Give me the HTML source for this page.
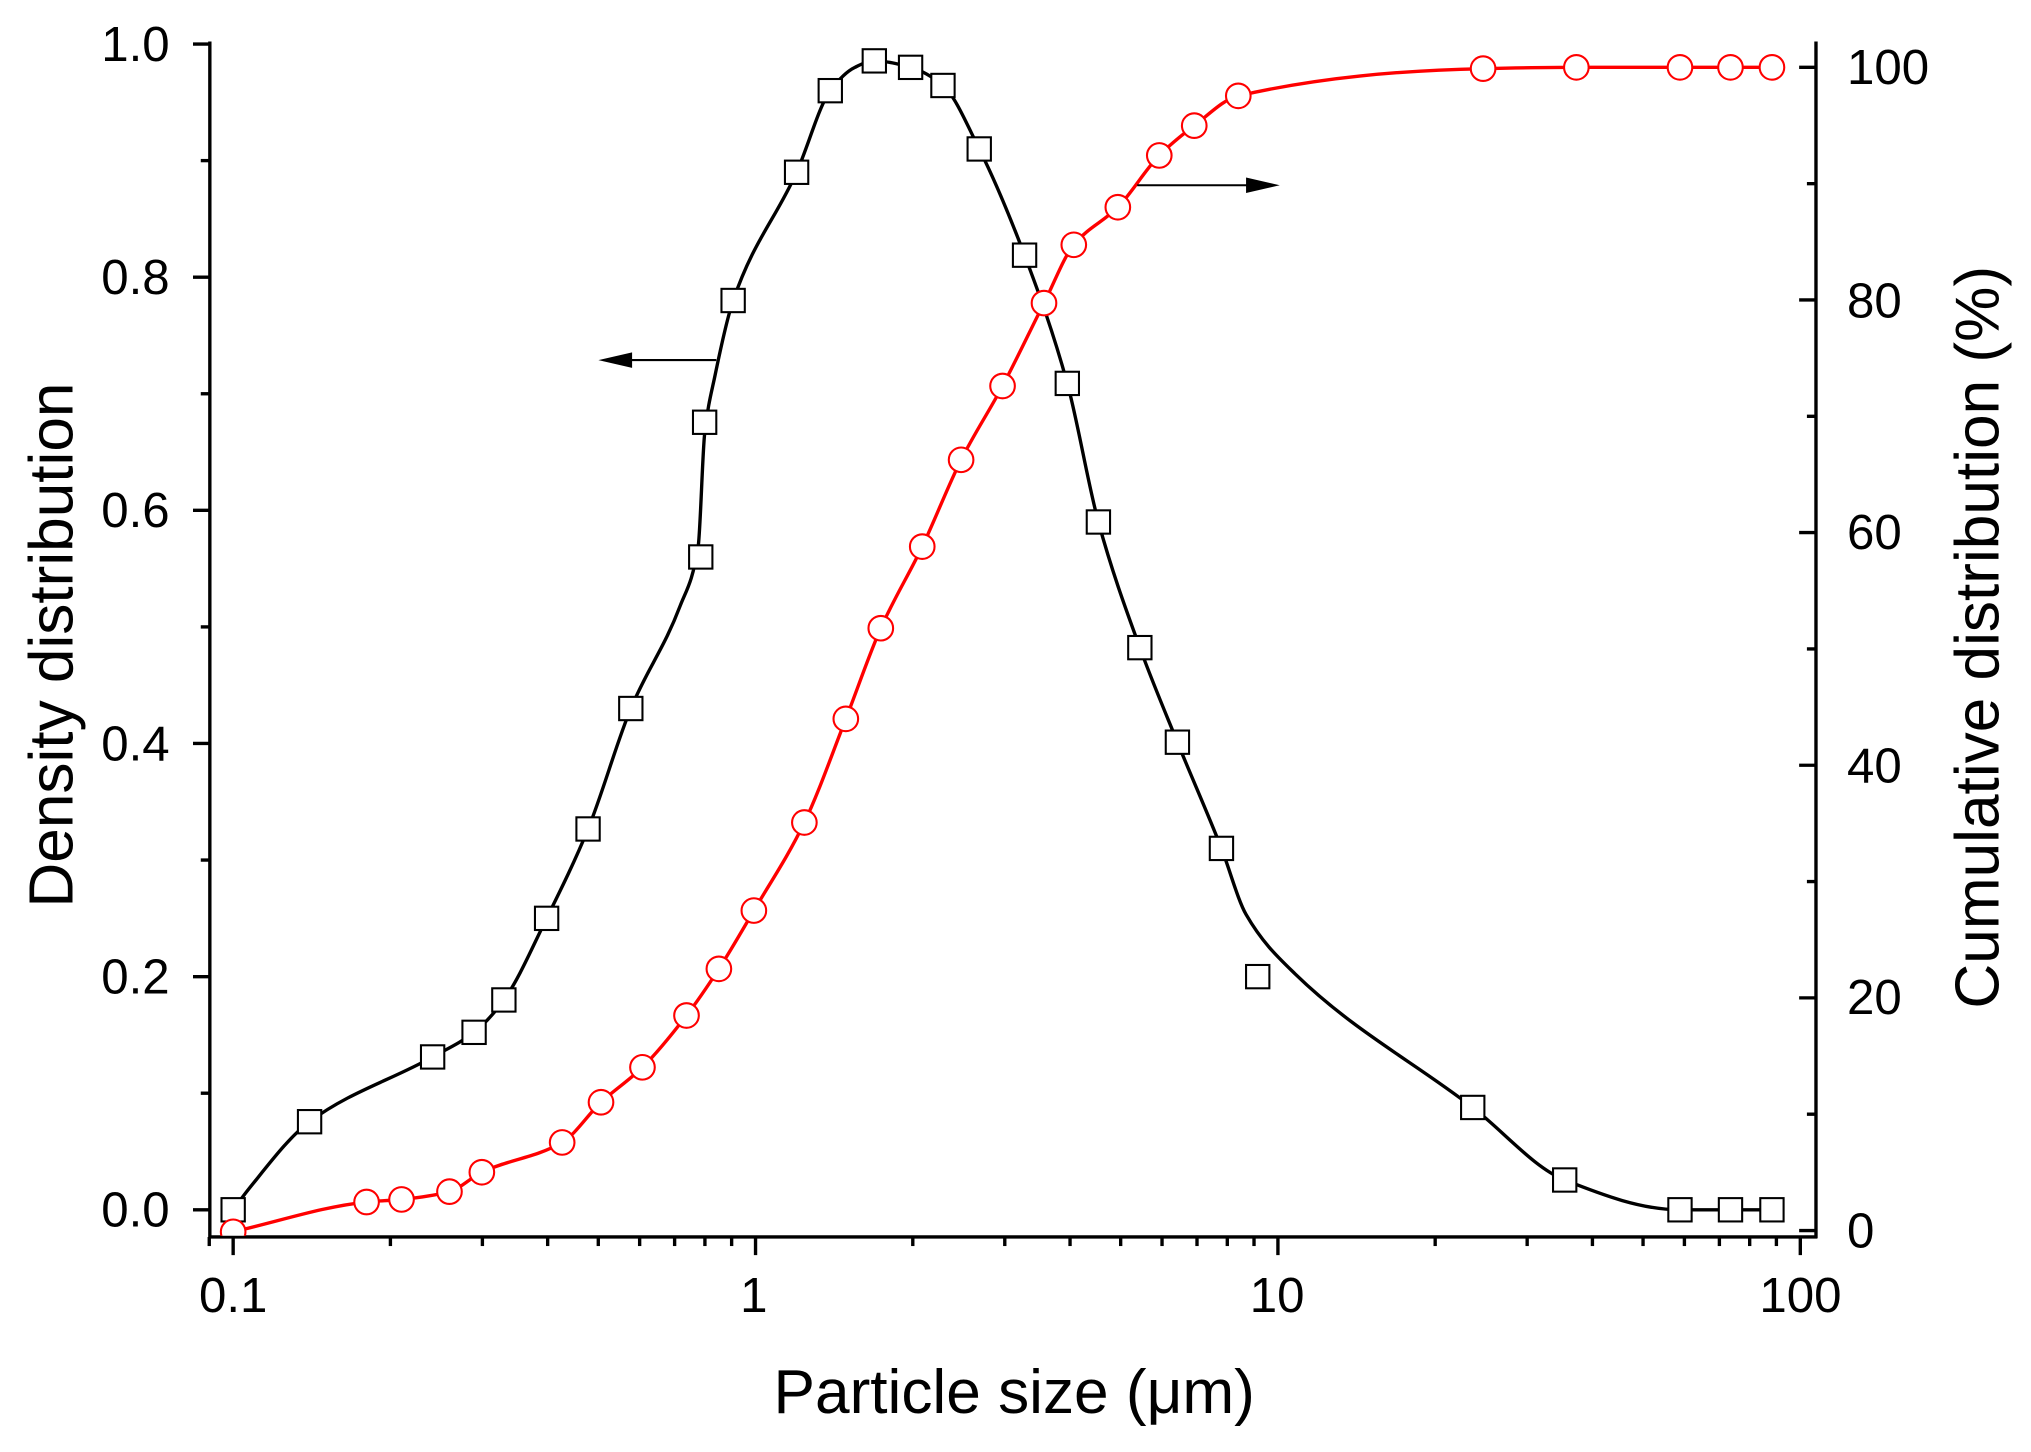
<!DOCTYPE html>
<html><head><meta charset="utf-8"><style>
html,body{margin:0;padding:0;background:#fff;}
svg{display:block}
text{font-family:"Liberation Sans",Arial,sans-serif;fill:#000}
</style></head><body>
<svg id="s" width="2031" height="1452" viewBox="0 0 1568 1121" xmlns="http://www.w3.org/2000/svg">
<defs>
<clipPath id="cp"><rect x="163" y="0" width="1238" height="954"/></clipPath>
</defs>
<g id="axes" stroke="#000" stroke-width="2.6" fill="none">
<line x1="162" y1="32" x2="162" y2="956"/>
<line x1="1402" y1="32" x2="1402" y2="956"/>
<line x1="161" y1="955" x2="1403" y2="955"/>
</g>
<g id="ticks" stroke="#000" stroke-width="2.6"></g>
<g id="curves" fill="none" stroke-width="2.6" clip-path="url(#cp)"></g>
<g id="marks" clip-path="url(#cp)"></g>
<line x1="553" y1="278" x2="466" y2="278" stroke="#000" stroke-width="1.6"/>
<path d="M462,278 L488,272 L488,284Z" fill="#000"/>
<line x1="878" y1="143" x2="964" y2="143" stroke="#000" stroke-width="1.6"/>
<path d="M988,143 L962,137 L962,149Z" fill="#000"/>
<g font-size="38" text-anchor="end">
<text x="131" y="47">1.0</text><text x="131" y="227">0.8</text><text x="131" y="407">0.6</text>
<text x="131" y="587">0.4</text><text x="131" y="767">0.2</text><text x="131" y="947">0.0</text>
</g>
<g font-size="38" text-anchor="start">
<text x="1426" y="65">100</text><text x="1426" y="245">80</text><text x="1426" y="424">60</text>
<text x="1426" y="604">40</text><text x="1426" y="783">20</text><text x="1426" y="963">0</text>
</g>
<g font-size="38" text-anchor="middle">
<text x="180" y="1013">0.1</text><text x="582" y="1013">1</text><text x="986" y="1013">10</text><text x="1390" y="1013">100</text>
</g>
<text x="783" y="1091" font-size="48" text-anchor="middle">Particle size (μm)</text>
<text transform="translate(56,498) rotate(-90)" font-size="48" text-anchor="middle">Density distribution</text>
<text transform="translate(1543,492) rotate(-90)" font-size="48" text-anchor="middle">Cumulative distribution (%)</text>
</svg>
<script>
var NS="http://www.w3.org/2000/svg";
function el(p,t,a){var e=document.createElementNS(NS,t);for(var k in a)e.setAttribute(k,a[k]);p.appendChild(e);return e;}
var tk=document.getElementById("ticks");
for(var i=0;i<=10;i++){var y=34+i*90;var L=(i%2==0)?13:7;el(tk,"line",{x1:162-L,y1:y,x2:162,y2:y});}
for(var i=0;i<=10;i++){var y=52+i*89.8;var L=(i%2==0)?13:7;el(tk,"line",{x1:1402-L,y1:y,x2:1402,y2:y});}
var dec=403.3;
for(var d=0;d<4;d++){var x0=180+d*dec;el(tk,"line",{x1:x0,y1:955,x2:x0,y2:969});
 if(d<3)for(var m=2;m<=9;m++){var x=x0+dec*Math.log10(m);el(tk,"line",{x1:x,y1:955,x2:x,y2:962});}}
el(tk,"line",{x1:180-dec*Math.log10(10/9),y1:955,x2:180-dec*Math.log10(10/9),y2:962});
var bc=[[180,934],[192,918],[239,866],[334,816],[366,797],[389,772],[422,709],[454,640],[487,547],[525,468],[539,422],[544,335],[552,290],[566,232],[615,133],[641,70],[660,52],[675,47],[703,52],[728,66],[756,115],[791,197],[824,296],[848,403],[880,500],[909,573],[943,655],[962,706],[1000,752],[1137,855],[1208,911],[1297,934],[1336,934],[1368,934]];
var sqm=[[180,934],[239,866],[334,816],[366,797],[389,772],[422,709],[454,640],[487,547],[541,430],[544,326],[566,232],[615,133],[641,70],[675,47],[703,52],[728,66],[756,115],[791,197],[824,296],[848,403],[880,500],[909,573],[943,655],[971,754],[1137,855],[1208,911],[1297,934],[1336,934],[1368,934]];
var ci=[[180,951],[283,928],[310,926],[347,920],[372,905],[434,882],[464,851],[496,824],[530,784],[555,748],[582,703],[621,635],[653,555],[680,485],[712,422],[742,355],[774,298],[806,234],[829,189],[863,160],[895,120],[922,97],[956,74],[1145,53],[1217,52],[1297,52],[1336,52],[1368,52]];
function mono(p){var n=p.length,dx=[],s=[],m=[];
 for(var i=0;i<n-1;i++){dx[i]=p[i+1][0]-p[i][0];s[i]=(p[i+1][1]-p[i][1])/dx[i];}
 m[0]=s[0];m[n-1]=s[n-2];
 for(var i=1;i<n-1;i++){if(s[i-1]*s[i]<=0)m[i]=0;else{var w1=2*dx[i]+dx[i-1],w2=dx[i]+2*dx[i-1];m[i]=(w1+w2)/(w1/s[i-1]+w2/s[i]);}}
 var d="M"+p[0][0]+","+p[0][1];
 for(var i=0;i<n-1;i++){var h=dx[i]/3;d+=" C"+(p[i][0]+h)+","+(p[i][1]+m[i]*h)+" "+(p[i+1][0]-h)+","+(p[i+1][1]-m[i+1]*h)+" "+p[i+1][0]+","+p[i+1][1];}
 return d;}
var cv=document.getElementById("curves");
el(cv,"path",{d:mono(bc),stroke:"#000"});
el(cv,"path",{d:mono(ci),stroke:"#f00"});
var mk=document.getElementById("marks");
sqm.forEach(function(p){el(mk,"rect",{x:p[0]-9,y:p[1]-9,width:18,height:18,fill:"#fff",stroke:"#000","stroke-width":1.6});});
ci.forEach(function(p){el(mk,"circle",{cx:p[0],cy:p[1],r:9.5,fill:"#fff",stroke:"#f00","stroke-width":1.6});});
</script>
</body></html>
